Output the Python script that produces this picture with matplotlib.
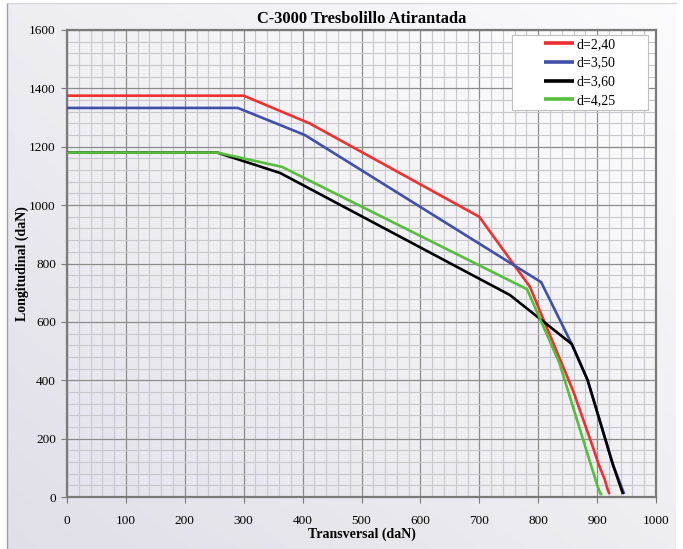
import numpy as np
import matplotlib
matplotlib.use("Agg")
import matplotlib.pyplot as plt
from matplotlib.lines import Line2D
from matplotlib.patches import Rectangle
from matplotlib.ticker import MultipleLocator

plt.rcParams['font.family'] = ['Liberation Serif', 'DejaVu Serif']

title = "C-3000 Tresbolillo Atirantada"
x_label = "Transversal (daN)"
y_label = "Longitudinal (daN)"

series_labels = ["d=2,40", "d=3,50", "d=3,60", "d=4,25"]
series_colors = ["#F03030", "#4050A8", "#000000", "#55BE3C"]

# transversal / longitudinal load pairs for each diameter
x_240 = [0, 300, 412, 700, 786, 860, 893, 903, 913, 918, 921]
y_240 = [1375, 1375, 1280, 960, 720, 360, 170, 110, 60, 25, 10]

x_350 = [0, 290, 404, 805, 857, 884, 927, 946]
y_350 = [1333, 1333, 1240, 736, 524, 400, 110, 10]

x_360 = [0, 255, 362, 752, 857, 884, 927, 944]
y_360 = [1180, 1180, 1110, 692, 524, 400, 110, 10]

x_425 = [0, 255, 365, 781, 836, 901, 906, 909]
y_425 = [1180, 1180, 1131, 712, 459, 35, 10, 10]

series_x = [x_240, x_350, x_360, x_425]
series_y = [y_240, y_350, y_360, y_425]

W, H = 683, 549
fig = plt.figure(figsize=(W / 100, H / 100), dpi=100)
fig.patch.set_facecolor("white")

# soft diagonal backdrop for the whole panel
def diag_gradient(c0, c1, n=256):
    u = np.linspace(0, 1, n)
    g = (u[None, :] + u[:, None]) / 2.0
    c0 = np.array(c0)[None, None, :]
    c1 = np.array(c1)[None, None, :]
    return c0 + (c1 - c0) * g[:, :, None]

bg = fig.add_axes([7 / W, 0, (676 - 7) / W, 1 - 3 / H], zorder=-10)
bg.imshow(diag_gradient((0.88, 0.875, 0.91), (0.985, 0.985, 0.99)),
          origin="lower", aspect="auto", extent=[0, 1, 0, 1])
bg.set_axis_off()
fig.add_artist(Line2D([7 / W, 7 / W], [0, 1 - 3 / H], color="#A0A0A0", lw=1.0))
fig.add_artist(Line2D([7 / W, 676 / W], [1 - 3 / H, 1 - 3 / H], color="#D8D8D8", lw=1.0))

left, right, top, bottom = 67, 656, 30, 497
ax = fig.add_axes([left / W, 1 - bottom / H, (right - left) / W, (bottom - top) / H])
ax.set_xlim(0, 1000)
ax.set_ylim(0, 1600)
ax.imshow(diag_gradient((0.895, 0.89, 0.925), (0.995, 0.995, 0.995)),
          origin="lower", aspect="auto", extent=[0, 1000, 0, 1600], zorder=0)

ax.xaxis.set_major_locator(MultipleLocator(100))
ax.xaxis.set_minor_locator(MultipleLocator(20))
ax.yaxis.set_major_locator(MultipleLocator(200))
ax.yaxis.set_minor_locator(MultipleLocator(40))
ax.grid(which="minor", color="#C8C8CC", lw=0.8, zorder=1)
ax.grid(which="major", color="#8C8C8C", lw=0.9, zorder=1)
ax.set_axisbelow(True)

for xs, ys, c, lab in zip(series_x, series_y, series_colors, series_labels):
    ax.plot(xs, ys, color=c, lw=1.9, label=lab, zorder=3,
            solid_joinstyle="miter", solid_capstyle="butt")

for s in ax.spines.values():
    s.set_color("#7A7A7A")
    s.set_linewidth(1.6)

ax.tick_params(which="major", direction="out", length=4, width=0.8,
               color="#7A7A7A", labelsize=9.5)
ax.tick_params(which="minor", length=0)
ax.tick_params(axis="x", pad=9)
ax.tick_params(axis="y", pad=4)

ax.set_title(title, fontsize=11.8, fontweight="bold", pad=5)
ax.set_xlabel(x_label, fontsize=10, fontweight="bold", labelpad=0)
ax.set_ylabel(y_label, fontsize=10, fontweight="bold", labelpad=0.5)

# legend frame drawn as a fixed box, entries centred inside it
bx0, bx1, by0, by1 = 0.7555, 0.986, 0.829, 0.989
ax.add_patch(Rectangle((bx0, by0), bx1 - bx0, by1 - by0, transform=ax.transAxes,
                       facecolor="white", edgecolor="#C0C0C0", lw=0.8, zorder=4))
leg = ax.legend(loc="center", bbox_to_anchor=((bx0 + bx1) / 2, (by0 + by1) / 2),
                fontsize=10, frameon=False, handlelength=2.1, handletextpad=0.2,
                labelspacing=0.42, borderpad=0, borderaxespad=0)
leg.set_zorder(5)
for h in leg.get_lines():
    h.set_linewidth(2.6)

fig.savefig("out.png", dpi=100)
